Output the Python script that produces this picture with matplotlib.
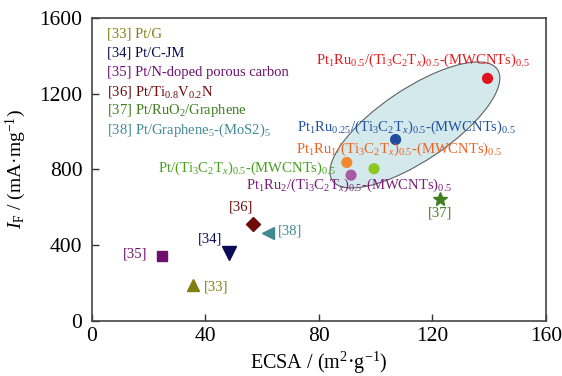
import matplotlib
matplotlib.use("Agg")
import matplotlib.pyplot as plt
from matplotlib.patches import Ellipse
from matplotlib.transforms import ScaledTranslation

# literature references: label, ECSA, I_F
ref_labels = ["[33]", "[34]", "[35]", "[36]", "[37]", "[38]"]
ref_ecsa = [35.5, 48.4, 24.6, 56.9, 122.6, 62.1]
ref_if = [190, 360, 342, 510, 642, 465]
ref_names = ["Pt/G", "Pt/C-JM", "Pt/N-doped porous carbon",
             "Pt/Ti$_{0.8}$V$_{0.2}$N", "Pt/RuO$_2$/Graphene",
             "Pt/Graphene$_5$-(MoS2)$_5$"]
ref_colors = ["#808012", "#0b0b55", "#6e0f6e", "#6e0a0a", "#3f7f1f", "#418a94"]
ref_markers = ["^", "v", "s", "D", "*", "<"]

# this work
work_labels = ["Pt$_1$Ru$_{0.5}$/(Ti$_3$C$_2$T$_x$)$_{0.5}$-(MWCNTs)$_{0.5}$",
               "Pt$_1$Ru$_{0.25}$/(Ti$_3$C$_2$T$_x$)$_{0.5}$-(MWCNTs)$_{0.5}$",
               "Pt$_1$Ru$_1$/(Ti$_3$C$_2$T$_x$)$_{0.5}$-(MWCNTs)$_{0.5}$",
               "Pt/(Ti$_3$C$_2$T$_x$)$_{0.5}$-(MWCNTs)$_{0.5}$",
               "Pt$_1$Ru$_2$/(Ti$_3$C$_2$T$_x$)$_{0.5}$-(MWCNTs)$_{0.5}$"]
work_ecsa = [139.4, 107.0, 89.8, 99.4, 91.3]
work_if = [1281, 958, 837, 804, 770]
work_dot_colors = ["#e0141e", "#1f4c9c", "#f08a30", "#8cc820", "#a85aa5"]
work_text_colors = ["#e31a1c", "#2150a0", "#f0601e", "#46a01e", "#7a1f7a"]

plt.rcParams["font.family"] = ["Liberation Serif", "DejaVu Serif"]
plt.rcParams["mathtext.fontset"] = "custom"
plt.rcParams["mathtext.rm"] = "Liberation Serif"
plt.rcParams["mathtext.it"] = "Liberation Serif:italic"
plt.rcParams["mathtext.bf"] = "Liberation Serif:bold"

fig = plt.figure(figsize=(5.62, 3.76), dpi=100)
ax = fig.add_axes([0.1637, 0.1463, 0.8078, 0.8059])

ax.set_xlim(0, 160)
ax.set_ylim(0, 1600)
ax.set_xticks([0, 40, 80, 120, 160])
ax.set_yticks([0, 400, 800, 1200, 1600])
ax.tick_params(direction="in", length=5, width=1, labelsize=15.5,
               top=False, right=False, colors="#333333", labelcolor="black")
ax.tick_params(axis="y", pad=7)
ax.tick_params(axis="x", pad=4)
for sp in ax.spines.values():
    sp.set_color("#444444")
    sp.set_linewidth(1.2)

ax.set_xlabel("ECSA / (m$^2$·g$^{-1}$)", fontsize=14.5, labelpad=3)
ax.set_ylabel("$I_\\mathrm{F}$ / (mA·mg$^{-1}$)", fontsize=14, labelpad=8)

# ellipse drawn in inches around its data-space centre
ell = Ellipse((0, 0), 1.99, 0.72, angle=33.9, facecolor="#d4e9ec",
              edgecolor="#606060", linewidth=0.8, zorder=1,
              transform=fig.dpi_scale_trans
              + ScaledTranslation(113.8, 1035, ax.transData))
ax.add_patch(ell)

marker_sizes = {"^": 9, "v": 9.5, "s": 7.5, "D": 7.5, "*": 10.5, "<": 8.5}
for x, y, c, m in zip(ref_ecsa, ref_if, ref_colors, ref_markers):
    ax.plot(x, y, marker=m, color=c, markersize=marker_sizes[m],
            linestyle="none", zorder=3)

ax.scatter(work_ecsa, work_if, s=65, c=work_dot_colors, edgecolors="none",
           zorder=3)

# reference labels next to the markers
ref_text_pos = [(39.6, 181, "left"), (41.6, 432, "center"),
                (15.2, 352, "center"), (52.4, 604, "center"),
                (122.6, 569, "center"), (65.6, 477, "left")]
for lab, c, (tx, ty, ha) in zip(ref_labels, ref_colors, ref_text_pos):
    ax.text(tx, ty, lab, color=c, fontsize=10.5, ha=ha, va="center",
            zorder=4)

work_text_pos = [(116.8, 1375, "center"), (110.7, 1024, "center"),
                 (108.3, 907, "center"), (85.9, 805, "right"),
                 (90.5, 715, "center")]
for lab, c, (tx, ty, ha) in zip(work_labels, work_text_colors, work_text_pos):
    ax.text(tx, ty, lab, color=c, fontsize=10.5, ha=ha, va="center",
            zorder=4)

# text legend in the upper left
for i, (lab, name, c) in enumerate(zip(ref_labels, ref_names, ref_colors)):
    ax.text(0.033, 0.947 - i * 0.0635, lab + " " + name, color=c,
            fontsize=10.5, ha="left", va="center", transform=ax.transAxes)

fig.savefig("out.png", dpi=100)
